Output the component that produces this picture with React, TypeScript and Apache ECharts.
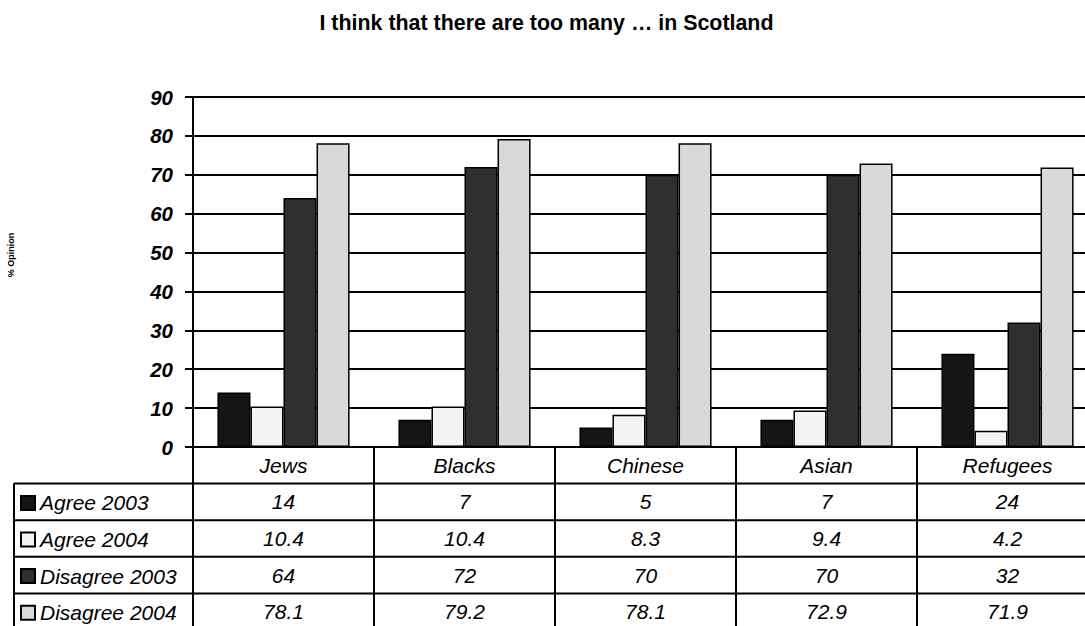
import React, { useEffect, useRef } from "react";
import * as echarts from "echarts";

const title = "I think that there are too many … in Scotland";
const yAxisTitle = "% Opinion";
const categories = ["Jews", "Blacks", "Chinese", "Asian", "Refugees"];
const seriesNames = ["Agree 2003", "Agree 2004", "Disagree 2003", "Disagree 2004"];
const agree2003 = [14, 7, 5, 7, 24];
const agree2004 = [10.4, 10.4, 8.3, 9.4, 4.2];
const disagree2003 = [64, 72, 70, 70, 32];
const disagree2004 = [78.1, 79.2, 78.1, 72.9, 71.9];
const seriesValues = [agree2003, agree2004, disagree2003, disagree2004];
const seriesColors = ["#151515", "#f3f3f3", "#2f2f2f", "#d9d9d9"];

const W = 1085;
const H = 626;
const GRID_LEFT = 193;
const GRID_TOP = 97;
const AXIS_Y = 447;
const ROW_H = 36.6;
const TABLE_LEFT = 14;
const FONT = "'Liberation Sans', Arial, sans-serif";
const TABLE_FONT = 21;

export default function App() {
  const ref = useRef<HTMLDivElement>(null);
  useEffect(() => {
    if (!ref.current) return;
    const chart = echarts.init(ref.current, undefined, { renderer: "svg" });

    const tableLines: any[] = [];
    for (let k = 1; k <= 4; k++) {
      const y = AXIS_Y + k * ROW_H;
      tableLines.push({
        type: "line",
        shape: { x1: TABLE_LEFT, y1: y, x2: W + 20, y2: y },
        style: { stroke: "#000", lineWidth: 2 },
        z: 10,
      });
    }
    tableLines.push({
      type: "line",
      shape: { x1: TABLE_LEFT, y1: AXIS_Y + ROW_H, x2: TABLE_LEFT, y2: H + 10 },
      style: { stroke: "#000", lineWidth: 2 },
      z: 10,
    });

    const legends = seriesNames.map((name, i) => ({
      orient: "horizontal",
      left: 20,
      top: AXIS_Y + ROW_H * (i + 1) + ROW_H / 2 - 11,
      padding: 0,
      itemWidth: 14,
      itemHeight: 14,
      itemGap: 0,
      icon: "rect",
      data: [name],
      selectedMode: false,
      textStyle: {
        fontFamily: FONT,
        fontSize: TABLE_FONT,
        fontStyle: "italic",
        color: "#000",
        lineHeight: 24,
      },
    }));

    chart.setOption({
      animation: false,
      backgroundColor: "#fff",
      legend: legends,
      grid: {
        left: GRID_LEFT,
        top: GRID_TOP,
        right: W - GRID_LEFT - 181 * 5,
        bottom: H - AXIS_Y,
        containLabel: false,
        outerBoundsMode: "none",
      },
      xAxis: {
        type: "category",
        data: categories,
        axisLine: { show: true, lineStyle: { color: "#000", width: 2 } },
        axisTick: {
          show: true,
          alignWithLabel: false,
          length: H - AXIS_Y + 10,
          lineStyle: { color: "#000", width: 2 },
        },
        axisLabel: {
          interval: 0,
          margin: 0,
          fontFamily: FONT,
          fontSize: TABLE_FONT,
          fontStyle: "italic",
          color: "#000",
          lineHeight: ROW_H,
          formatter: (value: string, index: number) =>
            [value, ...seriesValues.map((s) => String(s[index]))].join("\n"),
        },
        splitLine: { show: false },
      },
      yAxis: {
        type: "value",
        min: 0,
        max: 90,
        interval: 10,
        axisLine: { show: true, lineStyle: { color: "#000", width: 2 } },
        axisTick: { show: true, length: 8, lineStyle: { color: "#000", width: 2 } },
        axisLabel: {
          margin: 20,
          fontFamily: FONT,
          fontSize: 20.5,
          fontWeight: "bold",
          fontStyle: "italic",
          color: "#000",
        },
        splitLine: { show: true, lineStyle: { color: "#000", width: 2 } },
      },
      series: seriesNames.map((name, i) => ({
        name,
        type: "bar",
        data: seriesValues[i],
        barGap: "0%",
        barCategoryGap: "27%",
        itemStyle: { color: seriesColors[i], borderColor: "#000", borderWidth: 1.5 },
      })),
      graphic: [
        ...tableLines,
        {
          type: "text",
          x: 546.5,
          y: 23,
          style: {
            text: title,
            fontFamily: FONT,
            fontSize: 21.4,
            fontWeight: "bold",
            fill: "#000",
            align: "center",
            verticalAlign: "middle",
          },
        },
        {
          type: "text",
          x: 11,
          y: 255,
          rotation: Math.PI / 2,
          style: {
            text: yAxisTitle,
            fontFamily: FONT,
            fontSize: 9,
            fontWeight: "bold",
            fill: "#000",
            align: "center",
            verticalAlign: "middle",
          },
        },
      ],
    });
    return () => chart.dispose();
  }, []);
  return (
    <div
      ref={ref}
      style={{ position: "fixed", left: 0, top: 0, width: W, height: H, overflow: "hidden" }}
    />
  );
}
